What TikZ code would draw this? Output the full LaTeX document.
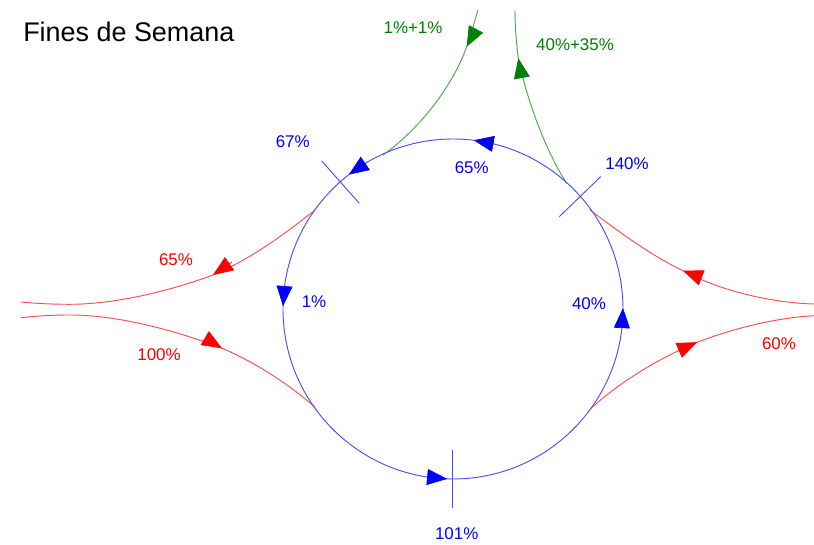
\documentclass[tikz,border=0pt]{standalone}
\usepackage{fontspec}
\setmainfont{Liberation Sans}
\usetikzlibrary{arrows.meta, calc}
\definecolor{darkgrn}{RGB}{0,128,0}
\tikzset{tipb/.style={draw=blue,line width=.5pt,-{Triangle[length=15pt,width=12pt]}}}
\tikzset{tipr/.style={draw=red,line width=.5pt,-{Triangle[length=15pt,width=12pt]}}}
\tikzset{tipg/.style={draw=darkgrn,line width=.5pt,-{Triangle[length=15pt,width=12pt]}}}
\tikzset{lnb/.style={draw=blue!70!white,line width=.7pt}}
\tikzset{lnr/.style={draw=red!70!white,line width=.7pt}}
\tikzset{lng/.style={draw=darkgrn!70!white,line width=.7pt}}
\tikzset{labb/.style={text=blue,font=\fontsize{12.7}{14}\selectfont,inner sep=0pt}}
\tikzset{labr/.style={text=red,font=\fontsize{12.7}{14}\selectfont,inner sep=0pt}}
\tikzset{labg/.style={text=darkgrn,font=\fontsize{12.7}{14}\selectfont,inner sep=0pt}}
\begin{document}
\begin{tikzpicture}[x=.75pt,y=.75pt]
\useasboundingbox (0,0) rectangle (814,545);
\coordinate (c) at (453,236);

% left arms
\coordinate (r1a) at (315,335);
\coordinate (r1t) at (213,270);
\coordinate (r1b) at (232,283);
\coordinate (r1m) at (70,240.7);
\coordinate (r1e) at (21,243);
\draw [lnr] (r1a) .. controls (280,307) and (245,283) .. (r1t)
	.. controls (170,254) and (115,240.7) .. (r1m)
	.. controls (52,240.7) and (36,241.5) .. (r1e);
\draw [tipr] (r1b) -- (r1t);

\coordinate (r2a) at (21,227.3);
\coordinate (r2m) at (70,230);
\coordinate (r2b) at (205.5,206.5);
\coordinate (r2t) at (222,196.7);
\coordinate (r2e) at (315,137.7);
\draw [lnr] (r2a) .. controls (36,229) and (52,230) .. (r2m)
	.. controls (120,230) and (180,213) .. (r2t)
	.. controls (255,183) and (290,160) .. (r2e);
\draw [tipr] (r2b) -- (r2t);

% right arms
\coordinate (r3a) at (814,241);
\coordinate (r3b) at (702,267);
\coordinate (r3t) at (683,274.3);
\coordinate (r3e) at (590,335);
\draw [lnr] (r3a) .. controls (775,242) and (722,253) .. (r3t)
	.. controls (650,290) and (618,314) .. (r3e);
\draw [tipr] (r3b) -- (r3t);

\coordinate (r4a) at (591,136.7);
\coordinate (r4b) at (679.5,195);
\coordinate (r4t) at (697,202.7);
\coordinate (r4e) at (814,229.3);
\draw [lnr] (r4a) .. controls (622,165) and (662,188) .. (r4t)
	.. controls (735,217) and (775,227) .. (r4e);
\draw [tipr] (r4b) -- (r4t);

% top arms
\coordinate (g1a) at (478,535);
\coordinate (g1b) at (475.5,515);
\coordinate (g1t) at (466.7,498.3);
\coordinate (g1e) at (383,390);
\draw [lng] (g1a) .. controls (474,522) and (471,510) .. (g1t)
	.. controls (455,465) and (425,420) .. (g1e);
\draw [tipg] (g1b) -- (g1t);

\coordinate (g2a) at (566.7,361.7);
\coordinate (g2b) at (521.8,467.5);
\coordinate (g2t) at (518.3,486.7);
\coordinate (g2e) at (515,535);
\draw [lng] (g2a) .. controls (548,390) and (528,440) .. (g2t)
	.. controls (516,505) and (515,520) .. (g2e);
\draw [tipg] (g2b) -- (g2t);

% roundabout
\draw [lnb] (c) circle (170);
\foreach \a in {.3,83,127.8,179,268}
	\draw [tipb] ($(c)+(\a-6.7:170)$) -- ($(c)+(\a:170)$);

% cuts
\coordinate (t1a) at (321.7,384);
\coordinate (t1b) at (359.3,341.7);
\coordinate (t2a) at (559.3,328.3);
\coordinate (t2b) at (600.7,368.3);
\coordinate (t3a) at (452.7,95);
\coordinate (t3b) at (452.7,36.7);
\draw [lnb] (t1a) -- (t1b);
\draw [lnb] (t2a) -- (t2b);
\draw [lnb] (t3a) -- (t3b);

\node [anchor=west,inner sep=0pt,font=\fontsize{20.2}{24}\selectfont] at (23,513) (titl) {Fines de Semana};
\node [labg] at (413,517.5) (lg1) {1\%+1\%};
\node [labg] at (575,500.5) (lg2) {40\%+35\%};
\node [labb] at (292.7,403) (lb67) {67\%};
\node [labb] at (471.7,377) (lb65) {65\%};
\node [labb] at (627,381.3) (lb140) {140\%};
\node [labb] at (314,243.5) (lb1) {1\%};
\node [labb] at (589,241.8) (lb40) {40\%};
\node [labb] at (456.7,11.5) (lb101) {101\%};
\node [labr] at (176,285.3) (lr65) {65\%};
\node [labr] at (159,190.3) (lr100) {100\%};
\node [labr] at (779,201.3) (lr60) {60\%};
\end{tikzpicture}
\end{document}
